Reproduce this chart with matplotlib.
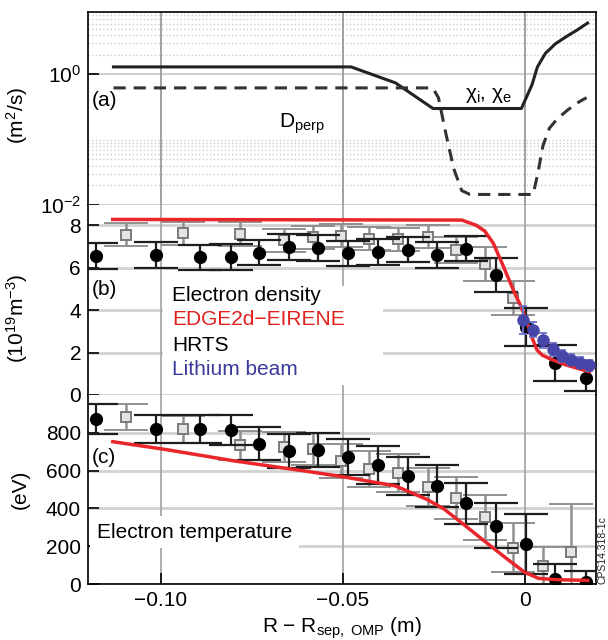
import matplotlib
matplotlib.use("Agg")
import matplotlib.pyplot as plt
from matplotlib.ticker import FixedLocator, LogFormatterMathtext, NullLocator
from matplotlib.patches import Rectangle

plt.rcParams['font.family'] = ['Liberation Sans', 'DejaVu Sans']
plt.rcParams['mathtext.fontset'] = 'custom'
plt.rcParams['mathtext.rm'] = 'Liberation Sans'
plt.rcParams['mathtext.it'] = 'Liberation Sans:italic'
plt.rcParams['mathtext.bf'] = 'Liberation Sans:bold'
FS = 15

# ---- (a) transport coefficients (m^2/s) ----
chi_x = [-0.113, -0.0477, -0.0355, -0.0252, -0.0009, 0.0020, 0.0035, 0.0057,
         0.0085, 0.0115, 0.0145, 0.0173]
chi_y = [1.3, 1.3, 0.74, 0.30, 0.30, 0.69, 1.30, 2.10, 2.95, 3.80, 4.80, 6.1]
dperp_x = [-0.113, -0.0253, -0.0237, -0.0216, -0.0195, -0.0173, -0.0150,
           0.0023, 0.0036, 0.0050, 0.0068, 0.0090, 0.0120, 0.0150, 0.0170]
dperp_y = [0.62, 0.62, 0.44, 0.12, 0.036, 0.0166, 0.0145,
           0.0145, 0.030, 0.080, 0.150, 0.210, 0.290, 0.380, 0.44]

# ---- (b) electron density (1e19 m^-3) ----
ne_model_x = [-0.1132, -0.0173, -0.0134, -0.0110, -0.0086, -0.0058, -0.0029,
              -0.0010, 0.0005, 0.0019, 0.0034, 0.0048, 0.0077, 0.0115, 0.0154, 0.0178]
ne_model_y = [8.27, 8.24, 8.0, 7.73, 7.14, 6.04, 4.86, 4.16, 3.53, 2.75, 2.12,
              1.88, 1.65, 1.41, 1.21, 1.10]
hrts_x = [-0.1178, -0.1012, -0.0891, -0.0808, -0.0729, -0.0648, -0.0568, -0.0485,
          -0.0403, -0.0322, -0.0240, -0.0160, -0.0079, 0.0003, 0.0083, 0.0168]
ne_hrts = [6.54, 6.59, 6.48, 6.51, 6.71, 6.98, 6.93, 6.67, 6.74, 6.85, 6.59,
           6.89, 5.65, 3.2, 1.51, 0.81]
ne_hrts_err = [0.62, 0.6, 0.6, 0.6, 0.6, 0.6, 0.6, 0.6, 0.6, 0.6, 0.6, 0.6,
               0.8, 0.9, 0.85, 0.6]
hrts2_x = [-0.1096, -0.0940, -0.0782, -0.0662, -0.0583, -0.0506, -0.0427,
           -0.0347, -0.0267, -0.0189, -0.0108, -0.0031]
ne_hrts2 = [7.56, 7.61, 7.58, 7.29, 7.42, 7.50, 7.37, 7.34, 7.46, 6.82, 6.18, 4.55]
ne_hrts2_err = [0.55, 0.55, 0.55, 0.55, 0.55, 0.55, 0.55, 0.55, 0.55, 0.6, 0.8, 0.8]
li_x = [-0.0005, 0.0024, 0.0051, 0.0077, 0.0103, 0.0127, 0.0153, 0.0178]
ne_li = [3.53, 3.08, 2.58, 2.16, 1.84, 1.67, 1.52, 1.40]
ne_li_err = [0.65, 0.35, 0.35, 0.3, 0.3, 0.25, 0.25, 0.25]

# ---- (c) electron temperature (eV) ----
te_model_x = [-0.1132, -0.0988, -0.0797, -0.0605, -0.0501, -0.0355, -0.0269,
              -0.0221, -0.0163, -0.0106, -0.0048, 0.0000, 0.0038, 0.0086, 0.0173]
te_model_y = [753, 712, 651, 598, 568, 519, 448, 396, 308, 220, 132, 62, 30, 23, 19]
te_hrts = [874, 821, 821, 814, 742, 703, 707, 673, 628, 571, 519, 427, 308, 211, 26, 9]
te_hrts_err = [80, 75, 75, 80, 88, 90, 90, 95, 100, 100, 110, 110, 120, 160, 80, 60]
te_hrts2 = [884, 818, 733, 726, 712, 651, 607, 586, 513, 454, 352, 193]
te_hrts2_err = [70, 70, 75, 80, 85, 90, 95, 100, 100, 110, 120, 130]
hrts3_x = [0.0051, 0.0127]
te_hrts3 = [97, 171]
te_hrts3_err = [100, 250]

xticks = [-0.10, -0.05, 0.0]
xtick_labels = ['\u22120.10', '\u22120.05', '0']

fig = plt.figure(figsize=(6.08, 6.4), dpi=100)
L = 88 / 608
W = (596 - 88) / 608
axa = fig.add_axes([L, 1 - 205 / 640, W, 193 / 640])
axb = fig.add_axes([L, 1 - 395 / 640, W, 190 / 640], sharex=axa)
axc = fig.add_axes([L, 1 - 584 / 640, W, 189 / 640], sharex=axa)

for ax in (axa, axb, axc):
    ax.set_xlim(-0.12, 0.0196)
    for s in ax.spines.values():
        s.set_linewidth(1.2)
    ax.tick_params(axis='both', direction='in', length=8, width=1.2,
                   labelsize=FS, pad=5)
    for xv in xticks:
        ax.axvline(xv, color='#a8a8a8' if ax is not axa else '#9a9a9a',
                   lw=1.3, zorder=0.5)

axa.spines['bottom'].set_visible(False)
axb.spines['top'].set_visible(False)
axb.spines['bottom'].set_visible(False)
axc.spines['top'].set_visible(False)
axa.tick_params(axis='x', bottom=False, labelbottom=False)
axb.tick_params(axis='x', bottom=False, labelbottom=False)
axc.set_xticks(xticks)
axc.set_xticklabels(xtick_labels)

# ---- panel (a) ----
axa.set_yscale('log')
axa.set_ylim(1e-2, 9)
axa.yaxis.set_major_locator(FixedLocator([1e-2, 1e0]))
axa.yaxis.set_major_formatter(LogFormatterMathtext())
axa.yaxis.set_minor_locator(NullLocator())
for yv in (1e-2, 1e0):
    axa.axhline(yv, color='#cfcfcf', lw=1.5, zorder=0.4)
for k in range(2, 10):
    axa.axhline(k * 1e-2, color='#cccccc', lw=1.0, ls=':', zorder=0.3)
    axa.axhline(k * 1e0, color='#cccccc', lw=1.0, ls=':', zorder=0.3)
axa.axhline(1e-1, color='#cccccc', lw=1.0, ls=':', zorder=0.3)
axa.plot(chi_x, chi_y, color='#222222', lw=2.2, zorder=3)
axa.plot(dperp_x, dperp_y, color='#333333', lw=2.2, ls=(0, (4, 2.6)), zorder=3)
axa.text(0.008, 0.539, '(a)', transform=axa.transAxes, fontsize=FS,
         ha='left', va='center')
axa.text(-0.0674, 0.155, r'D$_\mathrm{perp}$', fontsize=FS, ha='left',
         va='baseline')
axa.text(-0.0164, 0.42, r'χ$_\mathrm{i}$, χ$_\mathrm{e}$', fontsize=FS,
         ha='left', va='baseline')
axa.set_ylabel(r'(m$^2$/s)', fontsize=FS)
axa.yaxis.set_label_coords(-0.114, 0.466)

# ---- panel (b) ----
axb.set_ylim(0, 8.95)
axb.set_yticks([0, 2, 4, 6, 8])
for yv in [0, 2, 4, 6, 8]:
    axb.axhline(yv, color='#d2d2d2', lw=2.0, zorder=0.4)
axb.add_patch(Rectangle((0.148, 0.053), 0.433, 0.52, transform=axb.transAxes,
                        facecolor='white', edgecolor='none', zorder=1))
axb.errorbar(hrts2_x, ne_hrts2, yerr=ne_hrts2_err, fmt='s', ms=6.5,
             mfc='#e4e4e4', mec='#7a7a7a', mew=1.4, ecolor='#909090',
             elinewidth=1.8, capsize=16, capthick=2.0, zorder=2)
axb.errorbar(hrts_x, ne_hrts, yerr=ne_hrts_err, fmt='o', ms=8.5,
             mfc='black', mec='black', ecolor='#1e1e1e', elinewidth=1.6,
             capsize=16, capthick=1.6, zorder=3)
axb.plot(ne_model_x, ne_model_y, color='#e8262b', lw=2.5, zorder=4)
axb.errorbar(li_x, ne_li, yerr=ne_li_err, fmt='o', ms=8, mfc='#4646a8',
             mec='#4646a8', ecolor='#7070c8', elinewidth=1.5, capsize=3,
             capthick=1.3, zorder=5)
axb.text(0.008, 0.553, '(b)', transform=axb.transAxes, fontsize=FS,
         ha='left', va='center')
leg_y = [0.526, 0.395, 0.263, 0.132]
leg_txt = ['Electron density', 'EDGE2d\u2212EIRENE', 'HRTS', 'Lithium beam']
leg_col = ['black', '#e0201e', 'black', '#3a3a9a']
for yy, tt, cc in zip(leg_y, leg_txt, leg_col):
    axb.text(0.165, yy, tt, transform=axb.transAxes, fontsize=FS, color=cc,
             ha='left', va='center', zorder=6)
axb.set_ylabel(r'(10$^{19}$m$^{-3}$)', fontsize=FS)
axb.yaxis.set_label_coords(-0.114, 0.405)

# ---- panel (c) ----
axc.set_ylim(0, 1000)
axc.set_yticks([0, 200, 400, 600, 800])
for yv in [0, 200, 400, 600, 800]:
    axc.axhline(yv, color='#d2d2d2', lw=2.0, zorder=0.4)
axc.errorbar(hrts2_x, te_hrts2, yerr=te_hrts2_err, fmt='s', ms=6.5,
             mfc='#e4e4e4', mec='#7a7a7a', mew=1.4, ecolor='#909090',
             elinewidth=1.8, capsize=16, capthick=2.0, zorder=2)
axc.errorbar(hrts3_x, te_hrts3, yerr=te_hrts3_err, fmt='s', ms=6.5,
             mfc='#e4e4e4', mec='#7a7a7a', mew=1.4, ecolor='#909090',
             elinewidth=1.8, capsize=16, capthick=2.0, zorder=2)
axc.errorbar(hrts_x, te_hrts, yerr=te_hrts_err, fmt='o', ms=8.5,
             mfc='black', mec='black', ecolor='#1e1e1e', elinewidth=1.6,
             capsize=16, capthick=1.6, zorder=3)
axc.plot(te_model_x, te_model_y, color='#e8262b', lw=2.5, zorder=4)
axc.text(0.008, 0.667, '(c)', transform=axc.transAxes, fontsize=FS,
         ha='left', va='center')
axc.text(0.018, 0.275, 'Electron temperature', transform=axc.transAxes,
         fontsize=FS, ha='left', va='center', zorder=6,
         bbox=dict(facecolor='white', edgecolor='none', pad=5))
axc.set_ylabel('(eV)', fontsize=FS)
axc.yaxis.set_label_coords(-0.114, 0.5)
axc.set_xlabel(r'R $-$ R$_\mathrm{sep,\ OMP}$ (m)', fontsize=FS, labelpad=4)

fig.text(0.9915, 0.088, 'CPS14.318-1c', rotation=90, fontsize=7.5,
         ha='center', va='bottom', color='#222222')

fig.savefig('out.png', dpi=100)
